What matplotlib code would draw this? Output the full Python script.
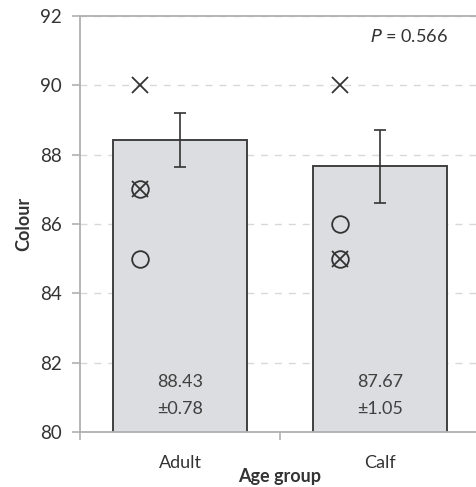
import numpy as np
import matplotlib.pyplot as plt

plt.rcParams['font.family'] = ['Lato', 'DejaVu Sans']

groups = ['Adult', 'Calf']
means = [88.43, 87.67]
sems = [0.78, 1.05]

# individual points, two symbol types
cross_vals = [[90, 87], [90, 85]]
circle_vals = [[87, 85], [86, 85]]
p_value = 0.566

fig = plt.figure(figsize=(4.76, 4.87), dpi=100)
ax = fig.add_axes([0.168, 0.113, 0.832, 0.854])

x = np.arange(len(groups))
ax.bar(x, means, width=0.667, color='#dcdde0', edgecolor='#404040', linewidth=1.4, zorder=2)
ax.errorbar(x, means, yerr=sems, fmt='none', ecolor='#333333', elinewidth=1.2,
            capsize=4, capthick=1.2, zorder=3)

# points sit a bit left of the bar centre
for i in range(len(groups)):
    px = x[i] - 0.2
    ax.plot([px] * len(cross_vals[i]), cross_vals[i], linestyle='none', marker='x',
            ms=11, mew=1.3, color='#333333', zorder=4)
    ax.plot([px] * len(circle_vals[i]), circle_vals[i], linestyle='none', marker='o',
            ms=12, mew=1.3, mfc='none', mec='#333333', zorder=4)
    ax.text(x[i], 81.45, f'{means[i]:.2f}', ha='center', va='center', fontsize=13, color='#404040', zorder=5)
    ax.text(x[i], 80.65, f'\u00b1{sems[i]:.2f}', ha='center', va='center', fontsize=13, color='#404040', zorder=5)

ax.text(1.34, 91.4, f'$\\mathit{{P}}$ = {p_value}', ha='right', va='center', fontsize=13, color='#333333')

ax.set_xlim(-0.5, 1.48)
ax.set_ylim(80, 92)
ax.set_yticks(np.arange(80, 93, 2))
ax.set_xticks([0.5], minor=False)
ax.set_xticklabels([''])
ax.set_xticks([-0.5], minor=True)
ax.tick_params(axis='x', which='both', length=6, color='#b0b0b0', width=1.2)
ax.tick_params(axis='y', length=6, color='#b0b0b0', width=1.2, labelsize=13.5, labelcolor='#333333', pad=7)

for i, g in enumerate(groups):
    ax.text(x[i], 79.1, g, ha='center', va='center', fontsize=13, color='#333333')

ax.grid(axis='y', linestyle=(0, (5, 5)), color='#d8d8d8', linewidth=1, zorder=0)
ax.set_axisbelow(True)

ax.spines['right'].set_visible(False)
for s in ['left', 'bottom', 'top']:
    ax.spines[s].set_color('#b0b0b0')
    ax.spines[s].set_linewidth(1.3)

ax.set_ylabel('Colour', fontsize=13, fontweight='bold', color='#333333', labelpad=6)
ax.text(0.5, 78.72, 'Age group', ha='center', va='center', fontsize=13, fontweight='bold', color='#333333')

fig.savefig('out.png', dpi=100)
